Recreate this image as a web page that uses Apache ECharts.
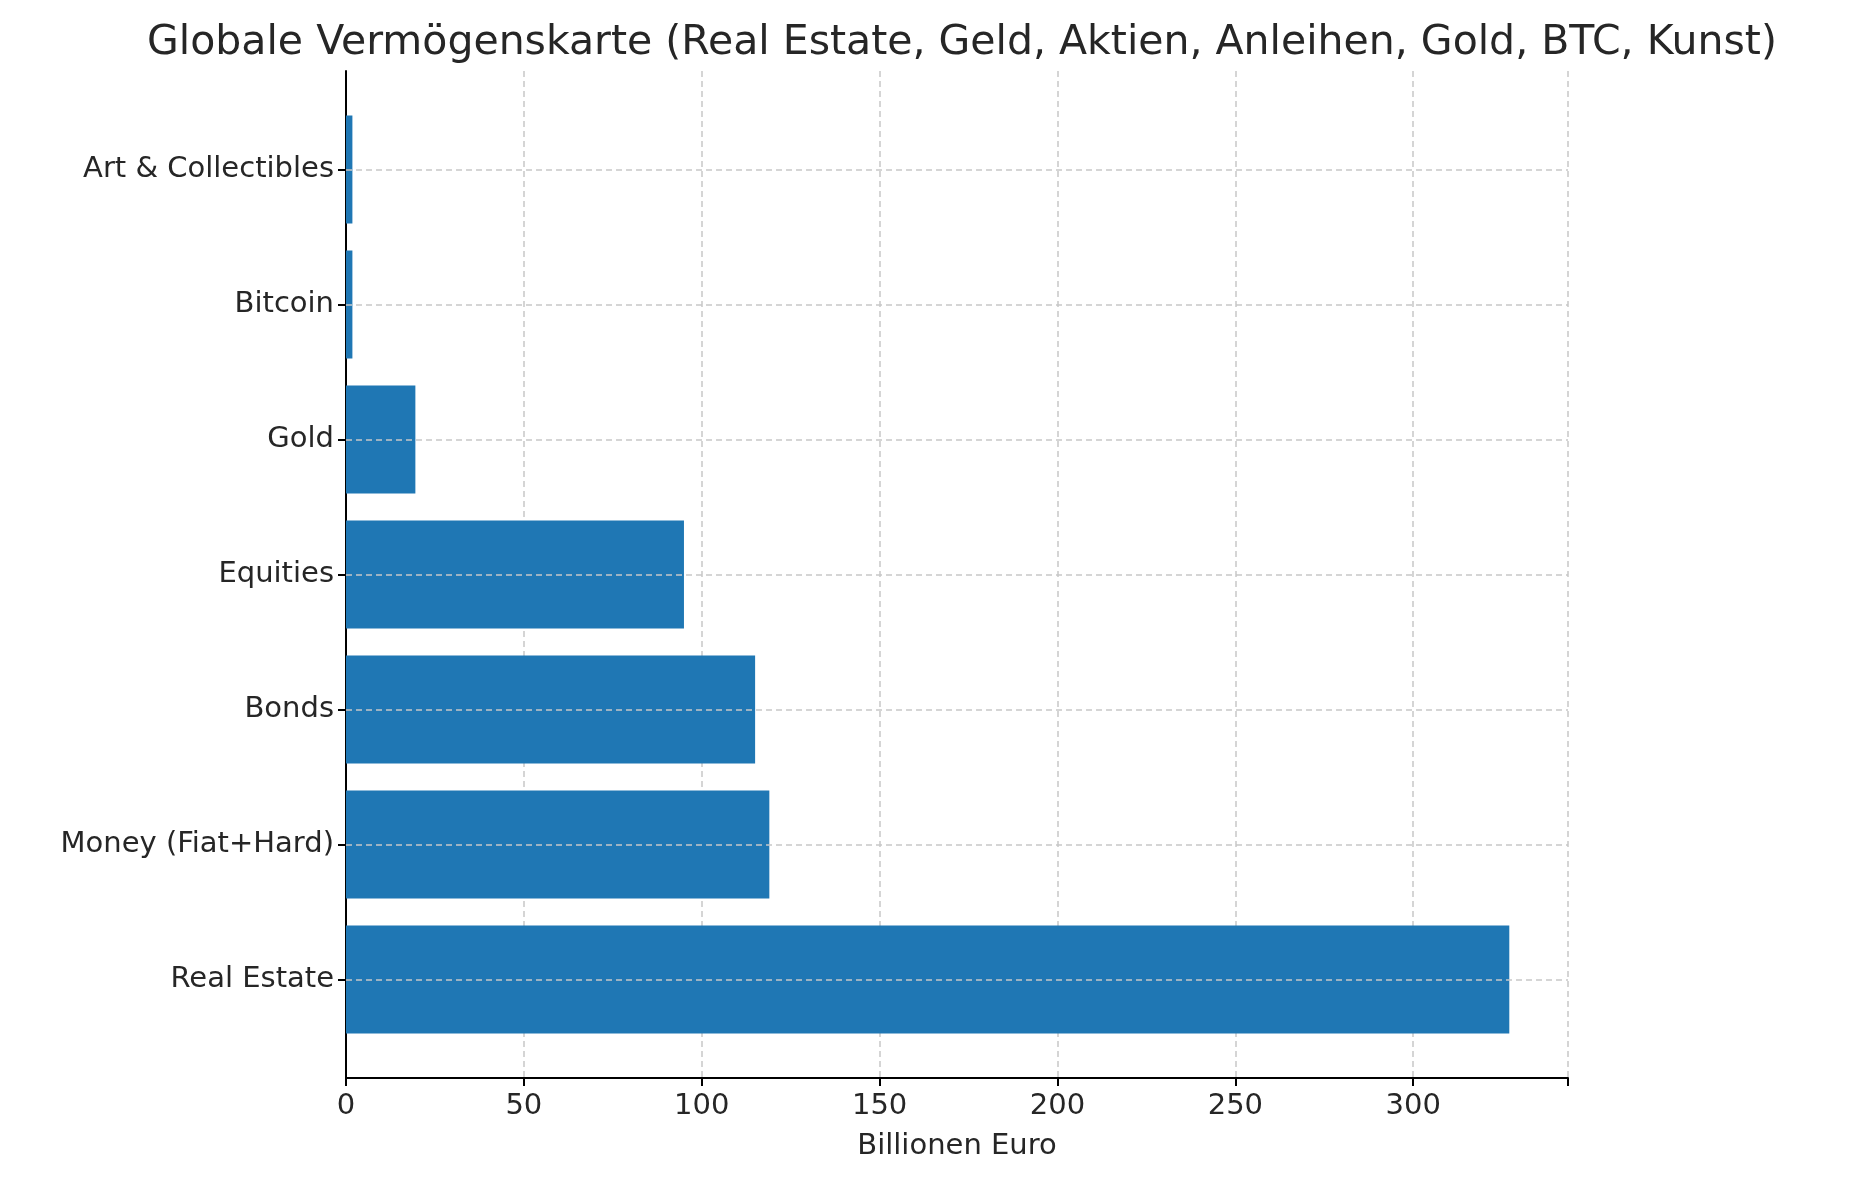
<!DOCTYPE html>
<html><head><meta charset="utf-8">
<script src="https://cdn.jsdelivr.net/npm/echarts@6/dist/echarts.min.js"></script>
<style>html,body{margin:0;padding:0;background:#fff}#c{width:1856px;height:1180px}</style>
</head><body><div id="c"></div>
<script>
const categories = ['Real Estate','Money (Fiat+Hard)','Bonds','Equities','Gold','Bitcoin','Art & Collectibles'];
const values = [327, 119, 115, 95, 19.5, 1.8, 1.8];
const xTicks = [0, 50, 100, 150, 200, 250, 300];
const font = 'DejaVu Sans';
const xMax = 343.5;
const chart = echarts.init(document.getElementById('c'));
chart.setOption({
  animation: false,
  title: { text: 'Globale Vermögenskarte (Real Estate, Geld, Aktien, Anleihen, Gold, BTC, Kunst)',
    left: 957, top: 18, textAlign: 'center',
    textStyle: { fontFamily: font, fontSize: 41, fontWeight: 'normal', color: '#262626' } },
  grid: [
    { left: 346, right: 288, top: 71, bottom: 102 },
    { left: 346, right: 288, top: 102, bottom: 133 }
  ],
  xAxis: [
    { gridIndex: 0, type: 'value', min: 0, max: xMax, interval: 50,
      name: 'Billionen Euro', nameLocation: 'middle', nameGap: 54,
      nameTextStyle: { fontFamily: font, fontSize: 29, color: '#262626' },
      axisLine: { lineStyle: { color: '#000', width: 2 } },
      axisTick: { show: true, length: 8, inside: false, lineStyle: { color: '#000', width: 2 } },
      axisLabel: { fontFamily: font, fontSize: 29, color: '#262626', margin: 14,
        formatter: v => xTicks.includes(v) ? String(v) : '' },
      splitLine: { show: true, lineStyle: { color: '#c8c8c8', type: [6, 4], width: 1.5 } } },
    { gridIndex: 1, type: 'value', min: 0, max: xMax, show: false }
  ],
  yAxis: [
    { gridIndex: 0, type: 'value', axisLine: { show: true, lineStyle: { color: '#000', width: 2 } },
      axisLabel: { show: false }, axisTick: { show: false }, splitLine: { show: false } },
    { gridIndex: 1, type: 'category', data: categories,
      axisLine: { show: false },
      axisTick: { show: true, alignWithLabel: true, length: 8, lineStyle: { color: '#000', width: 2 } },
      axisLabel: { fontFamily: font, fontSize: 29, color: '#262626', margin: 12 },
      splitLine: { show: false } }
  ],
  series: [{
    type: 'bar', xAxisIndex: 1, yAxisIndex: 1, data: values,
    barCategoryGap: '20%', itemStyle: { color: '#1f77b4' },
    markLine: { silent: true, symbol: 'none', label: { show: false },
      lineStyle: { color: '#c8c8c8', type: [6, 4], width: 1.5 },
      data: categories.map(c => ({ yAxis: c })) }
  }]
});
</script></body></html>
